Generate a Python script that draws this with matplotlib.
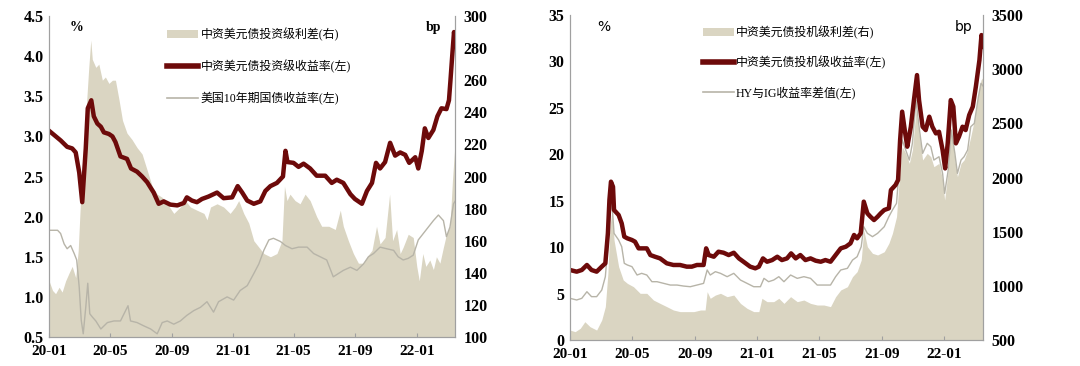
import numpy as np
import pandas as pd
import matplotlib
matplotlib.use("Agg")
import matplotlib.pyplot as plt
import matplotlib.dates as mdates
from matplotlib.patches import Patch
from matplotlib.lines import Line2D

plt.rcParams['font.family'] = ['Liberation Serif', 'Noto Sans CJK SC', 'DejaVu Sans']
plt.rcParams['font.weight'] = 'bold'

START = pd.Timestamp('2020-01-01')
END = pd.Timestamp('2022-03-18')
TICK_DATES = pd.date_range('2020-01-01', '2022-01-01', freq='4MS')

# ---------------- left chart: investment grade ----------------
ig_yield_days = [0, 23, 36, 46, 53, 60, 66, 73, 77, 84, 89, 96, 103, 109, 119, 126, 132, 142, 155,
                 163, 175, 185, 195, 208, 218, 228, 241, 255, 268, 274, 284, 294, 304, 317, 334,
                 347, 364, 375, 384, 394, 407, 420, 430, 440, 453, 465, 470, 474, 486, 496, 506,
                 519, 532, 549, 562, 572, 585, 599, 608, 622, 632, 642, 650, 658, 668, 678, 688,
                 698, 708, 716, 728, 734, 741, 747, 754, 764, 772, 780, 790, 795, 798, 802, 805, 808]
ig_yield = [3.07, 2.95, 2.87, 2.85, 2.80, 2.55, 2.18, 2.85, 3.35, 3.45, 3.25, 3.16, 3.12, 3.05, 3.03,
            3.00, 2.93, 2.75, 2.72, 2.60, 2.56, 2.50, 2.43, 2.30, 2.16, 2.19, 2.15, 2.14, 2.17, 2.24,
            2.20, 2.18, 2.22, 2.25, 2.30, 2.23, 2.24, 2.38, 2.30, 2.20, 2.16, 2.19, 2.32, 2.38, 2.42,
            2.50, 2.82, 2.68, 2.67, 2.62, 2.66, 2.60, 2.51, 2.51, 2.42, 2.46, 2.42, 2.28, 2.22, 2.16,
            2.32, 2.42, 2.67, 2.60, 2.68, 2.92, 2.76, 2.80, 2.77, 2.67, 2.74, 2.60, 2.82, 3.10, 2.98,
            3.08, 3.25, 3.35, 3.34, 3.45, 3.70, 4.05, 4.30, 4.15]

ust10_days = [0, 17, 23, 30, 36, 43, 50, 55, 60, 64, 68, 73, 77, 81, 86, 93, 103, 116, 129, 142, 157,
              162, 175, 188, 202, 215, 225, 235, 248, 261, 274, 288, 301, 314, 327, 337, 354, 367,
              380, 394, 407, 417, 427, 437, 446, 460, 470, 483, 496, 513, 526, 539, 552, 565, 575,
              585, 599, 612, 625, 635, 645, 658, 671, 685, 694, 704, 714, 724, 734, 744, 754, 764,
              774, 784, 790, 797, 804, 808]
ust10 = [1.83, 1.83, 1.79, 1.66, 1.60, 1.64, 1.54, 1.46, 1.12, 0.71, 0.54, 0.87, 1.17, 0.79, 0.75,
         0.70, 0.60, 0.68, 0.70, 0.70, 0.89, 0.70, 0.68, 0.64, 0.60, 0.54, 0.68, 0.70, 0.66, 0.70,
         0.77, 0.83, 0.87, 0.94, 0.81, 0.94, 1.00, 0.96, 1.08, 1.14, 1.29, 1.41, 1.58, 1.71, 1.73,
         1.69, 1.64, 1.60, 1.62, 1.62, 1.54, 1.50, 1.46, 1.25, 1.29, 1.33, 1.37, 1.33, 1.41, 1.50,
         1.54, 1.62, 1.60, 1.58, 1.50, 1.46, 1.48, 1.52, 1.71, 1.79, 1.87, 1.95, 2.02, 1.95, 1.75,
         1.87, 2.16, 2.20]

ig_spread_days = [0, 7, 13, 20, 26, 33, 40, 46, 53, 58, 62, 66, 71, 75, 79, 83, 86, 93, 99, 106, 112,
                  119, 126, 132, 139, 146, 155, 165, 175, 185, 195, 205, 215, 225, 235, 248, 261,
                  271, 281, 294, 308, 314, 321, 334, 347, 360, 370, 377, 387, 397, 407, 417, 427,
                  440, 453, 463, 468, 473, 479, 489, 499, 509, 519, 532, 542, 556, 569, 579, 585,
                  595, 605, 615, 625, 632, 642, 651, 658, 668, 677, 683, 691, 698, 704, 714, 724,
                  731, 736, 743, 749, 757, 764, 770, 777, 784, 790, 797, 802, 806, 808]
ig_spread = [135, 129, 127, 131, 128, 135, 140, 144, 137, 154, 181, 206, 227, 248, 268, 285, 273,
             268, 270, 260, 262, 258, 260, 260, 248, 235, 227, 223, 218, 214, 204, 194, 189, 187,
             183, 177, 181, 185, 181, 179, 177, 173, 181, 183, 181, 177, 181, 185, 177, 171, 160,
             156, 152, 150, 152, 160, 194, 185, 189, 185, 183, 189, 185, 175, 169, 169, 167, 179,
             169, 160, 152, 146, 146, 150, 154, 169, 158, 162, 189, 160, 167, 152, 156, 164, 162,
             144, 135, 152, 144, 148, 142, 150, 146, 156, 164, 169, 198, 216, 212]

# ---------------- right chart: high yield ----------------
hy_yield_days = [0, 13, 23, 33, 42, 52, 62, 69, 74, 77, 80, 84, 86, 95, 101, 106, 112, 121, 127, 134,
                 144, 150, 157, 166, 176, 189, 202, 215, 228, 238, 248, 261, 266, 271, 281, 290,
                 300, 310, 320, 330, 339, 352, 362, 369, 377, 385, 395, 405, 414, 424, 432, 441,
                 450, 460, 470, 480, 490, 499, 509, 519, 529, 539, 548, 555, 561, 568, 574, 581,
                 587, 594, 601, 607, 614, 623, 627, 636, 641, 645, 649, 655, 659, 666, 672, 678,
                 682, 689, 695, 702, 708, 715, 721, 728, 733, 738, 744, 749, 754, 760, 767, 773,
                 780, 787, 793, 800, 804, 808]
hy_yield = [7.54, 7.36, 7.54, 8.08, 7.54, 7.36, 7.90, 8.26, 11.50, 15.10, 17.05, 16.50, 14.00, 13.46,
            12.56, 11.13, 10.95, 10.77, 10.59, 9.87, 9.87, 9.87, 9.15, 8.97, 8.79, 8.26, 8.08, 8.08,
            7.90, 7.90, 8.08, 8.08, 9.87, 9.15, 8.97, 9.51, 9.40, 9.15, 9.40, 8.79, 8.43, 7.90, 7.72,
            7.90, 8.79, 8.43, 8.61, 8.97, 8.61, 8.79, 9.33, 8.79, 9.15, 8.61, 8.79, 8.54, 8.43, 8.61,
            8.43, 9.15, 9.87, 10.05, 10.41, 11.31, 10.95, 11.49, 14.90, 13.64, 13.28, 12.92, 13.28,
            13.64, 14.00, 14.18, 16.15, 16.69, 17.23, 21.54, 24.59, 22.25, 20.82, 22.97, 25.84,
            28.53, 25.84, 22.97, 22.61, 24.05, 22.97, 22.25, 22.43, 20.46, 18.48, 21.18, 25.84,
            25.13, 21.18, 21.90, 22.97, 22.61, 24.23, 25.13, 27.28, 30.15, 32.84, 31.59]

hy_ig_days = [0, 13, 23, 33, 42, 52, 62, 69, 74, 78, 82, 86, 95, 101, 106, 112, 121, 131, 140, 150,
              160, 170, 183, 196, 209, 222, 235, 248, 261, 268, 274, 284, 294, 307, 320, 333, 346,
              359, 372, 379, 388, 398, 408, 418, 431, 444, 457, 470, 483, 496, 509, 519, 529, 542,
              552, 561, 569, 574, 581, 591, 601, 614, 623, 630, 638, 645, 649, 656, 663, 669, 676,
              682, 689, 698, 705, 711, 721, 728, 732, 739, 745, 752, 757, 764, 770, 777, 783, 790,
              798, 803, 808]
hy_ig_diff = [4.49, 4.31, 4.49, 5.20, 4.67, 4.67, 5.38, 6.82, 10.05, 13.64, 14.72, 11.49, 10.77,
              10.05, 8.26, 8.08, 7.90, 7.00, 7.18, 7.00, 6.28, 6.28, 6.10, 5.92, 5.92, 5.81, 5.74,
              5.92, 6.10, 7.54, 7.00, 7.36, 7.18, 6.82, 7.18, 6.46, 6.10, 5.74, 5.74, 6.64, 6.28,
              6.46, 6.82, 6.28, 7.00, 6.64, 6.82, 6.64, 5.92, 5.92, 5.92, 6.82, 7.54, 7.72, 8.61,
              8.97, 10.05, 12.20, 11.49, 11.13, 11.49, 12.20, 13.28, 14.00, 14.72, 19.74, 21.54,
              20.46, 19.38, 21.18, 25.84, 22.97, 20.10, 21.18, 20.82, 19.38, 19.74, 17.95, 15.79,
              18.30, 22.61, 20.10, 17.95, 19.38, 19.74, 20.46, 22.97, 23.33, 26.20, 27.64, 27.28]

hy_spread_days = [0, 10, 20, 29, 39, 52, 62, 69, 74, 78, 82, 86, 95, 104, 112, 124, 137, 150, 163,
                  176, 189, 202, 215, 228, 242, 255, 264, 268, 274, 284, 294, 307, 320, 333, 346,
                  359, 369, 375, 385, 398, 408, 418, 431, 444, 457, 470, 483, 496, 509, 519, 529,
                  542, 552, 561, 569, 574, 581, 591, 601, 614, 623, 630, 638, 645, 649, 656, 663,
                  669, 676, 682, 689, 698, 705, 711, 721, 728, 732, 739, 745, 752, 757, 764, 770,
                  777, 783, 790, 798, 803, 808]
hy_spread = [592, 577, 608, 669, 623, 592, 685, 808, 1115, 1546, 1700, 1423, 1177, 1054, 1023, 992,
             931, 931, 869, 838, 808, 777, 762, 762, 762, 777, 777, 946, 885, 915, 931, 900, 915,
             838, 792, 762, 762, 885, 854, 854, 885, 838, 900, 854, 869, 838, 823, 823, 808, 900,
             962, 992, 1085, 1131, 1238, 1515, 1361, 1300, 1285, 1315, 1392, 1485, 1638, 2100,
             2285, 2223, 2131, 2254, 2623, 2408, 2162, 2223, 2192, 2100, 2131, 1977, 1792, 2069,
             2469, 2162, 2008, 2131, 2162, 2254, 2377, 2531, 2777, 2900, 2931]

FILL = '#dad5c2'
RED = '#6d0a0a'
GRAY = '#b7b4a8'
SPINE = '#a0a0a0'
LEGEND_PROP = {'family': ['Liberation Serif', 'Noto Sans CJK SC'], 'size': 8.6, 'weight': 'normal'}


def to_dates(days):
    return START + pd.to_timedelta(days, unit='D')


def style_axes(ax, ax_r):
    ax.set_zorder(ax_r.get_zorder() + 1)
    ax.patch.set_visible(False)
    for a in (ax, ax_r):
        for s in a.spines.values():
            s.set_color(SPINE)
            s.set_linewidth(0.8)
        a.spines['top'].set_visible(False)
    ax.set_xlim(START, END)
    ax.set_xticks(TICK_DATES)
    ax.xaxis.set_major_formatter(mdates.DateFormatter('%y-%m'))
    ax.tick_params(axis='x', direction='in', length=3, color=SPINE, pad=6, labelsize=11)
    ax.tick_params(axis='y', length=0, pad=4, labelsize=11.5)
    ax_r.tick_params(axis='y', length=0, pad=6, labelsize=11.5)


fig = plt.figure(figsize=(10.8, 3.66), dpi=100)

# left
ax1 = fig.add_axes([0.0454, 0.0792, 0.3759, 0.8771])
ax1r = ax1.twinx()
ax1r.fill_between(to_dates(ig_spread_days), ig_spread, 100, color=FILL, lw=0)
ax1.plot(to_dates(ust10_days), ust10, color=GRAY, lw=1.0)
ax1.plot(to_dates(ig_yield_days), ig_yield, color=RED, lw=3.2)
ax1.set_ylim(0.5, 4.5)
ax1.set_yticks(np.arange(0.5, 4.51, 0.5))
ax1.yaxis.set_major_formatter(matplotlib.ticker.FormatStrFormatter('%.1f'))
ax1r.set_ylim(100, 300)
ax1r.set_yticks(np.arange(100, 301, 20))
style_axes(ax1, ax1r)
ax1.text(0.05, 0.985, '%', transform=ax1.transAxes, fontsize=10, fontweight='bold', va='top')
ax1.text(0.965, 0.985, 'bp', transform=ax1.transAxes, fontsize=10, fontweight='bold', va='top', ha='right')

h1 = [Patch(facecolor=FILL, edgecolor='none'),
      Line2D([], [], color=RED, lw=4),
      Line2D([], [], color=GRAY, lw=1.2)]
l1 = ['中资美元债投资级利差(右)', '中资美元债投资级收益率(左)', '美国10年期国债收益率(左)']
leg1 = ax1.legend(h1, l1, loc='upper left', bbox_to_anchor=(0.265, 0.997), frameon=False,
                  prop=LEGEND_PROP, labelspacing=1.55, handlelength=2.6, handletextpad=0.2)

# right
ax2 = fig.add_axes([0.5278, 0.071, 0.3824, 0.888])
ax2r = ax2.twinx()
ax2r.fill_between(to_dates(hy_spread_days), hy_spread, 500, color=FILL, lw=0)
ax2.plot(to_dates(hy_ig_days), hy_ig_diff, color=GRAY, lw=1.0)
ax2.plot(to_dates(hy_yield_days), hy_yield, color=RED, lw=3.2)
ax2.set_ylim(0, 35)
ax2.set_yticks(np.arange(0, 36, 5))
ax2r.set_ylim(500, 3500)
ax2r.set_yticks(np.arange(500, 3501, 500))
style_axes(ax2, ax2r)
ax2.text(0.065, 0.985, '%', transform=ax2.transAxes, fontsize=10, family='DejaVu Sans',
         fontweight='normal', va='top')
ax2.text(0.975, 0.985, 'bp', transform=ax2.transAxes, fontsize=10, family='DejaVu Sans',
         fontweight='normal', va='top', ha='right')

h2 = [Patch(facecolor=FILL, edgecolor='none'),
      Line2D([], [], color=RED, lw=4),
      Line2D([], [], color=GRAY, lw=1.2)]
l2 = ['中资美元债投机级利差(右)', '中资美元债投机级收益率(左)', 'HY与IG收益率差值(左)']
leg2 = ax2.legend(h2, l2, loc='upper left', bbox_to_anchor=(0.295, 1.0), frameon=False,
                  prop=LEGEND_PROP, labelspacing=1.4, handlelength=2.6, handletextpad=0.2)

fig.savefig('out.png', dpi=100, facecolor='white')
